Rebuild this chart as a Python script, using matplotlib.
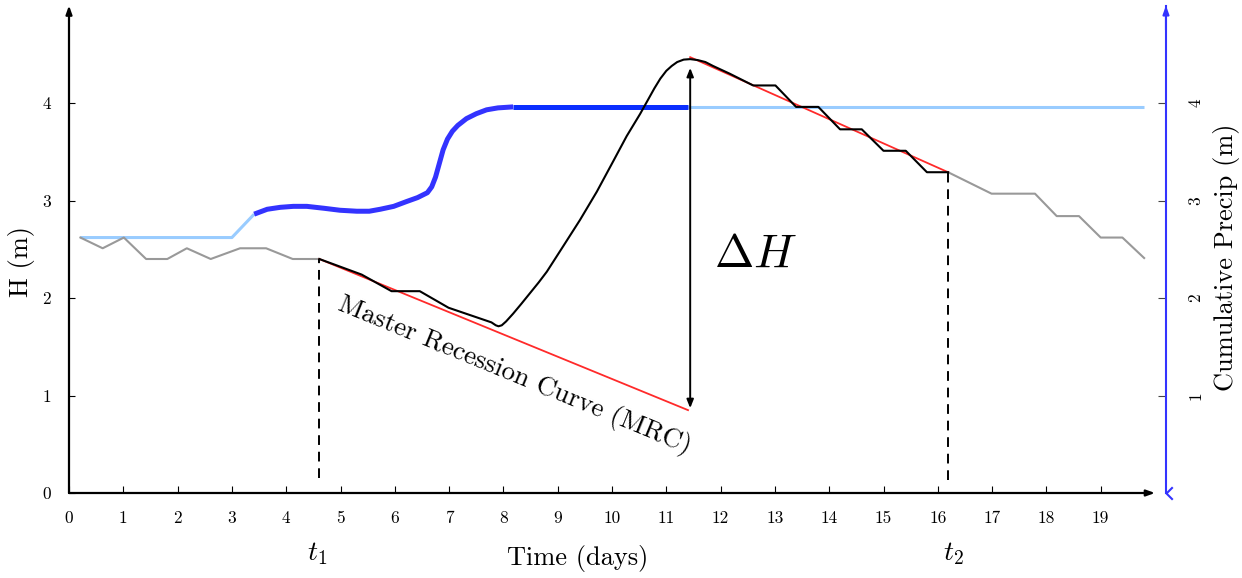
import numpy as np
import matplotlib
matplotlib.use("Agg")
import matplotlib.pyplot as plt
from matplotlib.path import Path

plt.rcParams['font.family'] = 'cmr10'
plt.rcParams['mathtext.fontset'] = 'cm'
plt.rcParams['axes.unicode_minus'] = False

# observed head, before t1 and after t2 (grey)
gray_before_x = [0.21, 0.62, 1.01, 1.42, 1.81, 2.17, 2.61, 3.15, 3.63, 4.12, 4.61]
gray_before_y = [2.62, 2.51, 2.62, 2.40, 2.40, 2.51, 2.40, 2.51, 2.51, 2.40, 2.40]
gray_after_x = [16.19, 16.99, 17.79, 18.19, 18.60, 19.00, 19.40, 19.80]
gray_after_y = [3.29, 3.07, 3.07, 2.84, 2.84, 2.62, 2.62, 2.41]

# head between t1 and t2 (black)
head_x = [4.61, 5.39, 5.94, 6.46, 6.99, 7.78, 7.86, 7.91, 7.97, 8.05, 8.18, 8.33,
          8.49, 8.65, 8.80, 9.10, 9.41, 9.72, 10.02, 10.27, 10.52, 10.66, 10.78,
          10.89, 11.00, 11.10, 11.20, 11.32, 11.44, 11.58, 11.72, 11.86, 12.17,
          12.60, 13.01, 13.39, 13.80, 14.20, 14.60, 15.00, 15.41, 15.80, 16.19]
head_y = [2.40, 2.24, 2.07, 2.07, 1.90, 1.75, 1.72, 1.71, 1.72, 1.76, 1.84, 1.94,
          2.05, 2.16, 2.27, 2.53, 2.80, 3.09, 3.40, 3.66, 3.89, 4.03, 4.15,
          4.25, 4.33, 4.38, 4.42, 4.445, 4.45, 4.44, 4.42, 4.38, 4.30,
          4.18, 4.18, 3.96, 3.96, 3.73, 3.73, 3.51, 3.51, 3.29, 3.29]

# master recession curve pieces (red)
mrc1_x = [4.61, 11.40]
mrc1_y = [2.40, 0.85]
mrc2_x = [11.44, 16.19]
mrc2_y = [4.47, 3.29]

# cumulative precipitation
precip_pre_x = [0.21, 3.00, 3.41]
precip_pre_y = [2.62, 2.62, 2.86]
precip_rise_x = [3.41, 3.65, 3.89, 4.13, 4.38, 4.70, 4.99, 5.30, 5.53, 5.73, 5.98,
                 6.22, 6.42, 6.60, 6.68, 6.75, 6.82, 6.89, 6.97, 7.06, 7.16, 7.32,
                 7.50, 7.69, 7.90, 8.18]
precip_rise_y = [2.86, 2.91, 2.93, 2.94, 2.94, 2.92, 2.90, 2.89, 2.89, 2.91, 2.94,
                 2.99, 3.03, 3.08, 3.14, 3.24, 3.38, 3.52, 3.63, 3.71, 3.77, 3.84,
                 3.89, 3.93, 3.95, 3.96]
precip_flat_x = [8.18, 11.40]
precip_flat_y = [3.96, 3.96]
precip_post_x = [11.40, 19.80]
precip_post_y = [3.96, 3.96]

t1, t2 = 4.61, 16.19
x_ticks = list(range(20))
y_ticks = [0, 1, 2, 3, 4]
y2_ticks = [1, 2, 3, 4]

fig = plt.figure(figsize=(12.42, 5.78), dpi=100)
ax = fig.add_axes([69 / 1242, 85 / 578, 1086 / 1242, 487.5 / 578])
ax.set_xlim(0, 20)
ax.set_ylim(0, 5)
for s in ax.spines.values():
    s.set_visible(False)

light_blue = '#99ccff'
ax.plot(precip_pre_x, precip_pre_y, color=light_blue, lw=2.2, solid_capstyle='butt')
ax.plot(precip_post_x, precip_post_y, color=light_blue, lw=2.2, solid_capstyle='butt')
ax.plot(precip_rise_x, precip_rise_y, color='#3333ff', lw=3.6, solid_capstyle='butt',
        solid_joinstyle='round')
ax.plot(precip_flat_x, precip_flat_y, color='#0a2eff', lw=3.6, solid_capstyle='butt')

ax.plot(gray_before_x, gray_before_y, color='#999999', lw=1.5)
ax.plot(gray_after_x, gray_after_y, color='#999999', lw=1.5)
ax.plot(mrc1_x, mrc1_y, color='#ff2a2a', lw=1.3)
ax.plot(mrc2_x, mrc2_y, color='#ff2a2a', lw=1.3)
ax.plot(head_x, head_y, color='black', lw=1.5, zorder=4, solid_joinstyle='round')

# t1 / t2 dashed markers
ax.plot([t1, t1], [0.15, gray_before_y[-1]], color='black', lw=1.4, ls=(0, (5, 3.5)))
ax.plot([t2, t2], [0.13, gray_after_y[0]], color='black', lw=1.4, ls=(0, (5, 3.5)))

# delta H arrow
ax.annotate('', xy=(11.44, 4.36), xytext=(11.44, 0.87),
            arrowprops=dict(arrowstyle='<|-|>,head_length=0.5,head_width=0.2',
                            color='black', lw=1.4, shrinkA=0, shrinkB=0))
ax.text(11.88, 2.44, r'$\Delta H$', fontsize=34, va='center', ha='left')
ax.text(8.21, 1.21, 'Master Recession Curve (MRC)', fontsize=19.5, rotation=-22.3,
        rotation_mode='anchor', ha='center', va='center')

# axes with arrows
arrow_kw = dict(arrowstyle='-|>,head_length=0.5,head_width=0.18', color='black',
                lw=1.6, shrinkA=0, shrinkB=0)
ax.annotate('', xy=(20, 0), xytext=(0, 0), arrowprops=arrow_kw, annotation_clip=False)
ax.annotate('', xy=(0, 5), xytext=(0, 0), arrowprops=arrow_kw, annotation_clip=False)

ax.set_xticks(x_ticks)
ax.set_yticks(y_ticks)
ax.tick_params(axis='x', direction='in', length=5, width=0.8, pad=13, labelsize=12.5)
ax.tick_params(axis='y', direction='in', length=4, width=0.8, pad=13, labelsize=12.5)

ax.set_ylabel('H (m)', fontsize=19)
ax.yaxis.set_label_coords(-0.031, 0.474)
ax.text(9.37, -0.67, 'Time (days)', fontsize=19, ha='center', va='center', clip_on=False)
ax.text(t1 - 0.04, -0.62, r'$t_1$', fontsize=20, ha='center', va='center', clip_on=False)
ax.text(t2 + 0.1, -0.62, r'$t_2$', fontsize=20, ha='center', va='center', clip_on=False)

# right-hand precipitation axis
blue = '#3333ff'
ax2 = ax.twinx()
ax2.set_ylim(0, 5)
for k, s in ax2.spines.items():
    s.set_visible(k == 'right')
ax2.spines['right'].set_position(('axes', 1.0101))
ax2.spines['right'].set_color(blue)
ax2.spines['right'].set_linewidth(1.5)
ax2.set_yticks(y2_ticks)
ax2.tick_params(axis='y', direction='in', length=6, width=0.8, color='#444444',
                pad=16, labelsize=12.5, labelrotation=90)
for lab in ax2.get_yticklabels():
    lab.set_va('center')
ax2.annotate('', xy=(1.0101, 1.0), xytext=(1.0101, 0.95), xycoords='axes fraction',
             arrowprops=dict(arrowstyle='-|>,head_length=0.5,head_width=0.18',
                             color=blue, lw=1.5, shrinkA=0, shrinkB=0))
tail = Path([(1, 1), (0, 0), (1, -1)], [Path.MOVETO, Path.LINETO, Path.LINETO])
ax2.plot([1.0101], [0.0], marker=tail, markersize=9, color=blue, mfc='none', mew=1.5,
         transform=ax2.transAxes, clip_on=False)
ax2.set_ylabel('Cumulative Precip (m)', fontsize=19)
ax2.yaxis.set_label_coords(1.053, 0.484)

fig.savefig('out.png', dpi=100)
